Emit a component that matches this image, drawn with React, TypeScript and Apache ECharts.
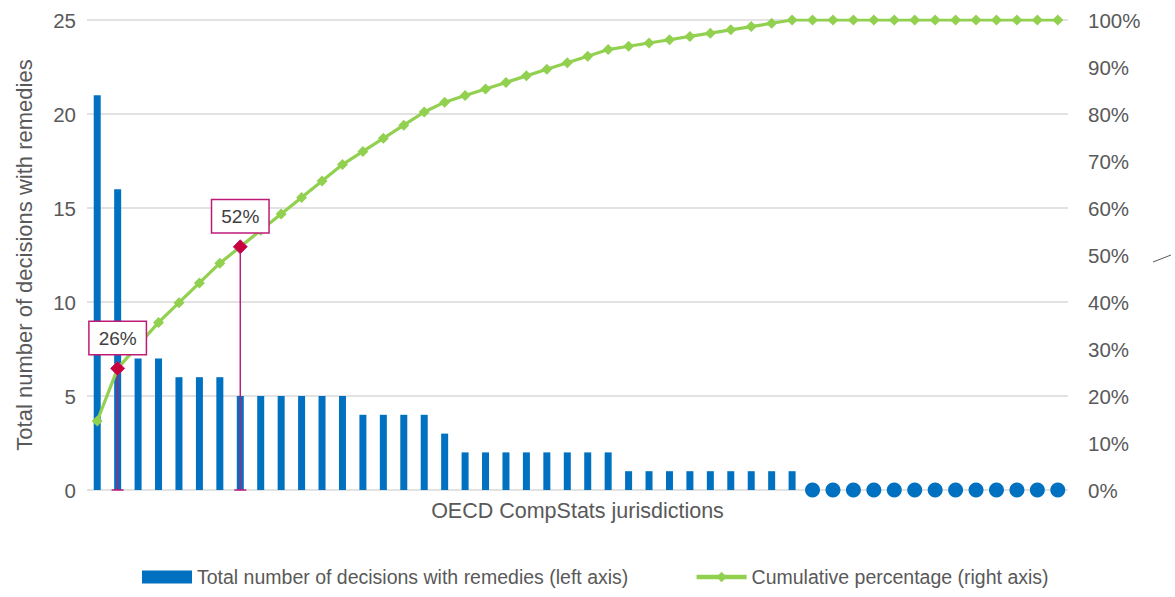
import React, { useEffect, useRef } from "react";
import * as echarts from "echarts";

const decisions: number[] = [
  21, 16, 7, 7, 6, 6, 6, 5, 5, 5, 5, 5, 5, 4, 4, 4, 4, 3, 2, 2, 2, 2, 2, 2, 2, 2,
  1, 1, 1, 1, 1, 1, 1, 1, 1, 0, 0, 0, 0, 0, 0, 0, 0, 0, 0, 0, 0, 0,
];
const jurisdictions: string[] = decisions.map((_, i) => `Jurisdiction ${i + 1}`);
const highlightIdx: number[] = [1, 7];
const leftTicks = { min: 0, max: 25, interval: 5 };
const rightTicks = { min: 0, max: 1, interval: 0.1 };

const BAR_NAME = "Total number of decisions with remedies (left axis)";
const LINE_NAME = "Cumulative percentage (right axis)";

const total = decisions.reduce((a, b) => a + b, 0);
const cumulative: number[] = [];
decisions.reduce((acc, v) => {
  const s = acc + v;
  cumulative.push(s / total);
  return s;
}, 0);

const FONT = "Liberation Sans, Arial, sans-serif";
const TXT = "#595959";
const MAGENTA = "#BE1A78";

export default function App() {
  const ref = useRef<HTMLDivElement>(null);
  useEffect(() => {
    if (!ref.current) return;
    const chart = echarts.init(ref.current, null, { renderer: "svg" });
    const zeroDots = decisions.map((v) => (v === 0 ? 0 : "-"));
    const highlightData = highlightIdx.map((i) => [i, cumulative[i]]);
    chart.setOption({
      animation: false,
      textStyle: { fontFamily: FONT },
      grid: { left: 87, right: 107, top: 20, bottom: 107 },
      legend: {
        bottom: 5,
        left: 137,
        itemWidth: 50,
        itemHeight: 13,
        itemGap: 66,
        textStyle: { fontSize: 19.5, color: TXT, fontFamily: FONT },
        data: [
          { name: BAR_NAME, icon: "rect" },
          { name: LINE_NAME, lineStyle: { width: 4.5 }, itemStyle: { color: "#92D050" } },
        ],
      },
      xAxis: {
        type: "category",
        data: jurisdictions,
        axisLine: { show: false },
        axisTick: { show: false },
        axisLabel: { show: false },
        name: "OECD CompStats jurisdictions",
        nameLocation: "middle",
        nameGap: 10,
        nameTextStyle: { fontSize: 21.5, color: TXT, fontFamily: FONT },
      },
      yAxis: [
        {
          type: "value",
          ...leftTicks,
          axisLine: { show: false },
          axisTick: { show: false },
          splitLine: { lineStyle: { color: "#d9d9d9", width: 1.5 } },
          axisLabel: { fontSize: 20.5, color: TXT, margin: 11, fontFamily: FONT },
          name: "Total number of decisions with remedies",
          nameLocation: "middle",
          nameGap: 52,
          nameTextStyle: { fontSize: 22, color: TXT, fontFamily: FONT },
        },
        {
          type: "value",
          ...rightTicks,
          axisLine: { show: false },
          axisTick: { show: false },
          splitLine: { show: false },
          axisLabel: {
            fontSize: 20.5,
            color: TXT,
            margin: 20,
            fontFamily: FONT,
            formatter: (v: number) => `${Math.round(v * 100)}%`,
          },
        },
      ],
      series: [
        {
          name: BAR_NAME,
          type: "bar",
          data: decisions,
          barWidth: 7,
          itemStyle: { color: "#0070C0" },
          z: 2,
        },
        {
          name: "zero",
          type: "scatter",
          data: zeroDots,
          symbol: "circle",
          symbolSize: 15,
          itemStyle: { color: "#0070C0", opacity: 1 },
          z: 3,
        },
        {
          name: "drop",
          type: "custom",
          yAxisIndex: 1,
          data: highlightData,
          encode: { x: 0, y: 1 },
          z: 3,
          renderItem: (params: any, api: any) => {
            const x = api.value(0);
            const v = api.value(1);
            const top = api.coord([x, v]);
            const bot = api.coord([x, 0]);
            const style = { stroke: MAGENTA, lineWidth: 1.5 };
            return {
              type: "group",
              children: [
                { type: "line", shape: { x1: top[0], y1: top[1], x2: bot[0], y2: bot[1] }, style },
                { type: "line", shape: { x1: bot[0] - 6, y1: bot[1], x2: bot[0] + 6, y2: bot[1] }, style },
              ],
            };
          },
        },
        {
          name: LINE_NAME,
          type: "line",
          yAxisIndex: 1,
          data: cumulative,
          symbol: "diamond",
          symbolSize: 11,
          lineStyle: { color: "#92D050", width: 3.2 },
          itemStyle: { color: "#92D050" },
          z: 4,
        },
        {
          name: "highlight",
          type: "scatter",
          yAxisIndex: 1,
          data: highlightData,
          symbol: "diamond",
          symbolSize: 14,
          itemStyle: { color: "#C8003C", borderColor: MAGENTA, borderWidth: 1, opacity: 1 },
          zlevel: 1,
          z: 6,
          label: {
            show: true,
            position: "top",
            distance: 7,
            formatter: (p: any) => `${Math.round(p.value[1] * 100)}%`,
            fontSize: 19,
            color: "#404040",
            fontFamily: FONT,
            backgroundColor: "#ffffff",
            borderColor: MAGENTA,
            borderWidth: 1.5,
            padding: [7, 9, 6, 9],
          },
        },
      ],
      graphic: [
        {
          type: "line",
          shape: { x1: 1153, y1: 262, x2: 1171, y2: 255 },
          style: { stroke: "#595959", lineWidth: 1 },
        },
      ],
    });
    return () => chart.dispose();
  }, []);
  return (
    <div
      ref={ref}
      style={{ position: "fixed", left: 0, top: 0, width: 1175, height: 597, background: "#fff" }}
    />
  );
}
